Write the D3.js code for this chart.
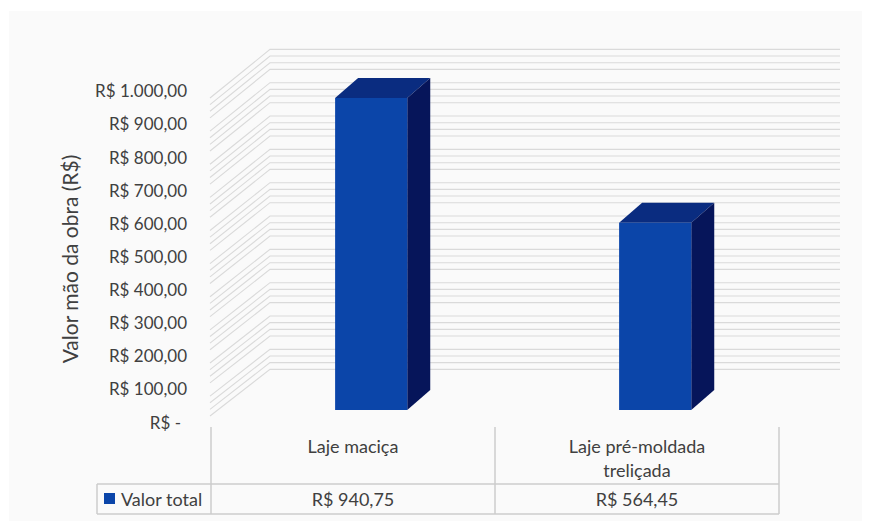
<!DOCTYPE html>
<html>
<head>
<meta charset="utf-8">
<script src="https://cdn.jsdelivr.net/npm/d3@7"></script>
<style>
  html, body { margin: 0; padding: 0; background: #ffffff; }
  svg { display: block; }
  text { font-family: Lato, "Open Sans", sans-serif; fill: #404040; }
</style>
</head>
<body>
<svg id="chart" width="871" height="525"></svg>
<script>
// ---- data ----
const categories = ["Laje maciça", "Laje pré-moldada treliçada"];
const categoryLines = [["Laje maciça"], ["Laje pré-moldada", "treliçada"]];
const seriesName = "Valor total";
const values = [940.75, 564.45];
const valueLabels = ["R$ 940,75", "R$ 564,45"];
const tickValues = [0, 100, 200, 300, 400, 500, 600, 700, 800, 900, 1000];
const tickLabels = ["R$ -", "R$ 100,00", "R$ 200,00", "R$ 300,00", "R$ 400,00", "R$ 500,00",
                    "R$ 600,00", "R$ 700,00", "R$ 800,00", "R$ 900,00", "R$ 1.000,00"];
const axisTitle = "Valor mão da obra (R$)";

// ---- layout ----
const svg = d3.select("#chart");
svg.append("rect").attr("x", 9).attr("y", 11).attr("width", 853).attr("height", 510)
  .attr("fill", "#fafafa");

const yFront = d3.scaleLinear().domain([0, 1000]).range([422.6, 91.4]); // front edge of side wall
const yBack  = d3.scaleLinear().domain([0, 1000]).range([376, 42.7]);   // back wall
const yBar   = d3.scaleLinear().domain([0, 1000]).range([410, 78.3]);   // bar front faces
const x = d3.scaleBand().domain(categories).range([211, 779]);
const wallFrontX = 210, wallBackX = 270, wallRightX = 840;
const depthDx = 23, depthDy = -20;

// gridlines (minor grid as drawn in the reference)
const gridVals = d3.range(20, 1000, 20).filter(v => v % 100 !== 0);
const grid = svg.append("g").attr("stroke", "#dadada").attr("stroke-width", 1.1).attr("fill", "none");
grid.selectAll("path").data(gridVals).join("path")
  .attr("d", v => `M${wallFrontX},${yFront(v)}L${wallBackX},${yBack(v)}L${wallRightX},${yBack(v)}`);

// bars
const bw = x.bandwidth() * 0.254;
const bx = c => x(c) + x.bandwidth() * 0.437;
const bars = svg.append("g");
categories.forEach((c, i) => {
  const x0 = bx(c), x1 = x0 + bw, yt = yBar(values[i]), yb = yBar(0);
  bars.append("path")
    .attr("d", `M${x0},${yt}L${x0 + depthDx},${yt + depthDy}L${x1 + depthDx},${yt + depthDy}L${x1},${yt}Z`)
    .attr("fill", "#0a2c80");
  bars.append("path")
    .attr("d", `M${x1},${yt}L${x1 + depthDx},${yt + depthDy}L${x1 + depthDx},${yb + depthDy}L${x1},${yb}Z`)
    .attr("fill", "#06155a");
  bars.append("rect").attr("x", x0).attr("y", yt).attr("width", bw).attr("height", yb - yt)
    .attr("fill", "#0b45a9");
});

// y axis labels
const axis = d3.axisLeft(yFront).tickValues(tickValues)
  .tickFormat((d, i) => tickLabels[i]).tickSize(0).tickPadding(0);
const ag = svg.append("g").attr("transform", "translate(187,0)").call(axis);
ag.select(".domain").remove();
ag.selectAll("text").style("font-size", "17px").attr("fill", "#404040")
  .attr("font-family", "Lato, sans-serif")
  .attr("dx", d => d === 0 ? -6 : 0);

// axis title
svg.append("text").attr("transform", "translate(78,259) rotate(-90)")
  .attr("text-anchor", "middle").style("font-size", "21px").text(axisTitle);

// data table
const tg = svg.append("g").attr("stroke", "#cccccc").attr("stroke-width", 1.5).attr("fill", "none");
const xr = x.range();
[xr[0], ...categories.map(c => x(c) + x.bandwidth())].forEach(xv => {
  tg.append("line").attr("x1", xv).attr("x2", xv).attr("y1", 427).attr("y2", 514);
});
tg.append("line").attr("x1", 97).attr("x2", xr[1]).attr("y1", 484).attr("y2", 484);
tg.append("line").attr("x1", 97).attr("x2", xr[1]).attr("y1", 514).attr("y2", 514);
tg.append("line").attr("x1", 97).attr("x2", 97).attr("y1", 484).attr("y2", 514);

categories.forEach((c, i) => {
  const cx = x(c) + x.bandwidth() / 2;
  categoryLines[i].forEach((ln, j) => {
    svg.append("text").attr("x", cx).attr("y", 453 + j * 24).attr("text-anchor", "middle")
      .style("font-size", "18px").text(ln);
  });
  svg.append("text").attr("x", cx).attr("y", 506).attr("text-anchor", "middle")
    .style("font-size", "18px").text(valueLabels[i]);
});
svg.append("rect").attr("x", 104).attr("y", 493).attr("width", 11).attr("height", 11).attr("fill", "#0b45a9");
svg.append("text").attr("x", 121).attr("y", 506).style("font-size", "18px").text(seriesName);
</script>
</body>
</html>
